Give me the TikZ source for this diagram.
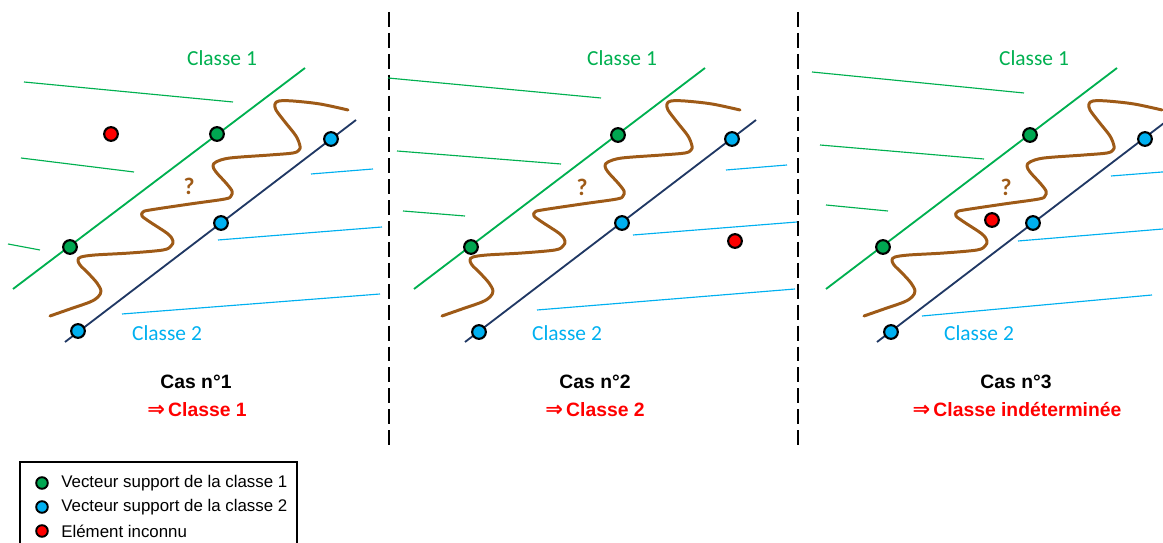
\documentclass[tikz,border=0pt]{standalone}
\usepackage{fontspec}
\setmainfont{Liberation Sans}
\newfontfamily\calib{Carlito}
\newfontfamily\dejavu{DejaVu Sans}
\definecolor{cgreen}{HTML}{00B050}
\definecolor{cdot}{HTML}{00A651}
\definecolor{cblue}{HTML}{00B0F0}
\definecolor{cnavy}{HTML}{203864}
\definecolor{cbrown}{HTML}{9E5A17}
\newcommand{\wavepath}{%
  \draw[wavecurve] plot[smooth,tension=0.55] coordinates {
  (50,316) (70,309) (90,302) (98,297) (101,291) (97,283) (88,273) (80,265) (78,260) (81,257) (95,255)
  (130,253) (163,250) (171,246) (173,241) (168,234) (150,222) (142,216) (143,212) (150,210) (190,204)
  (225,199) (231,196) (232,191) (226,183) (216,172) (213,166) (216,162) (230,158) (270,155) (293,153)
  (299,150) (300,146) (296,136) (285,122) (276,110) (275,104) (279,101) (293,101) (320,104) (348,110)};}
\begin{document}
\begin{tikzpicture}[x=0.02cm,y=-0.02cm,
  dot/.style={circle,draw=black,line width=1.2pt,minimum size=7.8pt,inner sep=0pt},
  gdot/.style={dot,fill=cdot},
  bdot/.style={dot,fill=cblue},
  rdot/.style={dot,fill=red},
  ldot/.style={circle,draw=black,line width=1.1pt,minimum size=6.6pt,inner sep=0pt},
  sepa/.style={draw=cgreen,line width=1.05pt},
  sepb/.style={draw=cnavy,line width=1.05pt},
  hata/.style={draw=cgreen,line width=0.65pt},
  hatb/.style={draw=cblue,line width=0.65pt},
  wavecurve/.style={draw=cbrown,line width=1.7pt,line cap=round,line join=round},
  laba/.style={text=cgreen,font=\calib\fontsize{12.2}{14}\selectfont,inner sep=0pt},
  labb/.style={text=cblue,font=\calib\fontsize{12.2}{14}\selectfont,inner sep=0pt},
  qmark/.style={text=cbrown,font=\calib\bfseries\fontsize{13.5}{15}\selectfont,inner sep=0pt},
  castitle/.style={font=\bfseries\fontsize{11}{13}\selectfont,inner sep=0pt},
  casres/.style={text=red,font=\bfseries\fontsize{11}{13}\selectfont,inner sep=0pt},
  legtext/.style={anchor=west,font=\fontsize{9.6}{11}\selectfont,inner sep=0pt},
  divider/.style={line width=1.1pt,dash pattern=on 8.5pt off 3.4pt}
]
\useasboundingbox (0,0) rectangle (1163,543);
\clip (0,0) rectangle (1163,543);

% dividers
\coordinate (d1t) at (389,12); \coordinate (d1b) at (389,445);
\coordinate (d2t) at (798,12); \coordinate (d2b) at (798,445);
\draw[divider] (d1t) -- (d1b);
\draw[divider] (d2t) -- (d2b);

% ---------- Panel 1 ----------
\draw[hata] (24,82) -- (233,102);
\draw[hata] (21,158) -- (134,172);
\draw[hata] (8,244) -- (40,250);
\draw[hatb] (311,174) -- (373,169);
\draw[hatb] (218,240) -- (382,227);
\draw[hatb] (122,314) -- (380,294);
\coordinate (a1s) at (13,289); \coordinate (a1e) at (305,68);
\coordinate (b1s) at (65,342); \coordinate (b1e) at (356,120);
\draw[sepa] (a1s) -- (a1e);
\draw[sepb] (b1s) -- (b1e);
\wavepath
\node[laba] (c1a) at (222,58) {Classe 1};
\node[labb] (c1b) at (167,333) {Classe 2};
\node[qmark] (q1) at (189,186) {?};
\node[gdot] (g1a) at (217,134) {};
\node[gdot] (g1b) at (70,247) {};
\node[bdot] (b1a) at (331,139) {};
\node[bdot] (b1b) at (221,223) {};
\node[bdot] (b1c) at (78,331) {};
\node[rdot] (r1) at (111,134) {};
\node[castitle] (t1) at (196,382) {Cas n°1};
\node[casres] (s1) at (197,410) {{\dejavu\bfseries\fontsize{12}{13}\selectfont ⇒}\,Classe 1};

% ---------- Panel 2 ----------
\draw[hata] (388,78) -- (601,98);
\draw[hata] (397,151) -- (561,164);
\draw[hata] (403,211) -- (465,216);
\draw[hatb] (726,170) -- (787,165);
\draw[hatb] (633,235) -- (797,222);
\draw[hatb] (537,310) -- (795,289);
\coordinate (a2s) at (414,289); \coordinate (a2e) at (705,68);
\coordinate (b2s) at (465,342); \coordinate (b2e) at (756,120);
\draw[sepa] (a2s) -- (a2e);
\draw[sepb] (b2s) -- (b2e);
\begin{scope}[shift={(392,0)}]\wavepath\end{scope}
\node[laba] (c2a) at (622,58) {Classe 1};
\node[labb] (c2b) at (567,333) {Classe 2};
\node[qmark] (q2) at (582,187) {?};
\node[gdot] (g2a) at (618,135) {};
\node[gdot] (g2b) at (471,247) {};
\node[bdot] (b2a) at (732,139) {};
\node[bdot] (b2b) at (622,223) {};
\node[bdot] (b2c) at (479,332) {};
\node[rdot] (r2) at (735,241) {};
\node[castitle] (t2) at (595,382) {Cas n°2};
\node[casres] (s2) at (595,410) {{\dejavu\bfseries\fontsize{12}{13}\selectfont ⇒}\,Classe 2};

% ---------- Panel 3 ----------
\draw[hata] (812,72) -- (1024,93);
\draw[hata] (820,145) -- (984,159);
\draw[hata] (826,205) -- (888,211);
\draw[hatb] (1111,176) -- (1175,171);
\draw[hatb] (1018,241) -- (1175,228);
\draw[hatb] (922,316) -- (1152,295);
\coordinate (a3s) at (826,289); \coordinate (a3e) at (1117,68);
\coordinate (b3s) at (877,342); \coordinate (b3e) at (1168,120);
\draw[sepa] (a3s) -- (a3e);
\draw[sepb] (b3s) -- (b3e);
\begin{scope}[shift={(814,0)}]\wavepath\end{scope}
\node[laba] (c3a) at (1034,58) {Classe 1};
\node[labb] (c3b) at (979,333) {Classe 2};
\node[qmark] (q3) at (1006,187) {?};
\node[gdot] (g3a) at (1030,135) {};
\node[gdot] (g3b) at (883,247) {};
\node[bdot] (b3a) at (1145,139) {};
\node[bdot] (b3b) at (1033,223) {};
\node[bdot] (b3c) at (891,332) {};
\node[rdot] (r3) at (992,220) {};
\node[castitle] (t3) at (1016,382) {Cas n°3};
\node[casres] (s3) at (1017,410) {{\dejavu\bfseries\fontsize{12}{13}\selectfont ⇒}\,Classe indéterminée};

% ---------- Legend ----------
\draw[line width=0.85pt] (20,462) rectangle (297,560);
\node[ldot,fill=cdot] (lg) at (42,483) {};
\node[ldot,fill=cblue] (lb) at (42,507) {};
\node[ldot,fill=red] (lr) at (42,531) {};
\node[legtext] (tg) at (61,483) {Vecteur support de la classe 1};
\node[legtext] (tb) at (61,507) {Vecteur support de la classe 2};
\node[legtext] (tr) at (61,531) {Elément inconnu};
\end{tikzpicture}
\end{document}
